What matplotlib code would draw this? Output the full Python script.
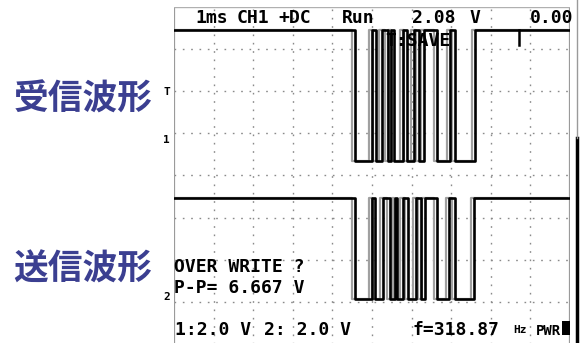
import matplotlib
matplotlib.use("Agg")
import matplotlib.pyplot as plt
from matplotlib.patches import Rectangle
import numpy as np

W, H = 581, 343

# ---------------- data ----------------
# time in ms (1 ms/div), edges where the level toggles; starts high
ch2_edges = [4.57, 5.00, 5.08, 5.28, 5.45, 5.58, 5.63, 5.78, 5.91, 6.11, 6.24, 6.34, 6.64, 6.94, 7.10, 7.58]
ch1_edges = [4.57, 5.00, 5.10, 5.25, 5.40, 5.48, 5.56, 5.78, 5.88, 6.06, 6.19, 6.31, 6.64, 6.97, 7.10, 7.60]
ch1_levels = (5.2, -1.0)   # volts high / low
ch2_levels = (4.7, -0.1)
volts_per_div = 2.0
ch1_offset_div = 0.84
ch2_offset_div = -2.88
ms_per_div = 1.0
trigger_ms = 8.70

top_labels = ["1ms", "CH1", "+DC", "Run", "2.08", "V", "0.00"]
top_x = [195, 237, 278, 342, 412, 470, 530]
bottom_labels = ["1:2.0 V", "2: 2.0 V", "f=318.87"]
bottom_x = [175, 264, 412]


def square(edges, hi, lo, t0=0.0, t1=10.0):
    t = [t0]
    v = [hi]
    level = hi
    for e in edges:
        t += [e, e]
        nxt = lo if level == hi else hi
        v += [level, nxt]
        level = nxt
    t.append(t1)
    v.append(level)
    return np.array(t), np.array(v)


fig = plt.figure(figsize=(W / 100, H / 100), dpi=100)
fig.patch.set_facecolor("white")


def fx(x):
    return x / W


def fy(y):
    return 1 - y / H


# screen axes: 10 x 8 divisions
top_px, div_px = 6.8, 42.17
ax = fig.add_axes([fx(174), fy(top_px + 8 * div_px), 396 / W, 8 * div_px / H])
ax.set_xlim(0, 10)
ax.set_ylim(-4, 4)
ax.axis("off")

grid_col = "#8a8a8a"
for i in range(1, 10):
    ax.plot([i, i], [-4, 4], color=grid_col, lw=1.0, ls=(0, (1.2, 4.8)), zorder=1)
for j in range(-3, 4):
    ax.plot([0, 10], [j, j], color=grid_col, lw=1.0, ls=(0, (1.2, 4.8)), zorder=1)
ax.plot([0, 0], [-4, 4], color="#9a9a9a", lw=1.6, zorder=1)
ax.plot([10, 10], [-4, 4], color="#9a9a9a", lw=1.6, zorder=1)
ax.plot([0, 10], [4, 4], color="#b0b0b0", lw=1.0, zorder=1)

for edges, lv, off in [(ch1_edges, ch1_levels, ch1_offset_div), (ch2_edges, ch2_levels, ch2_offset_div)]:
    t, v = square(edges, lv[0], lv[1])
    y = off + v / volts_per_div
    ax.plot(t / ms_per_div - 0.07, y, color="#a0a0a0", lw=1.6, zorder=2)
    ax.plot(t / ms_per_div, y, color="black", lw=1.9, zorder=3)

# trigger position tick
hi1 = ch1_offset_div + ch1_levels[0] / volts_per_div
ax.plot([trigger_ms, trigger_ms], [hi1, hi1 - 0.35], color="black", lw=1.8, zorder=3)

mono = dict(family="DejaVu Sans Mono", weight="bold", fontsize=13, color="black")
for s, x in zip(top_labels, top_x):
    fig.text(fx(x), fy(23), s, ha="left", va="baseline", **mono)
fig.text(fx(385), fy(46), "T:SAVE", ha="left", va="baseline", **mono)
fig.text(fx(174), fy(272), "OVER WRITE ?", ha="left", va="baseline", **mono)
fig.text(fx(174), fy(293), "P-P= 6.667 V", ha="left", va="baseline", **mono)
for s, x in zip(bottom_labels, bottom_x):
    fig.text(fx(x), fy(335), s, ha="left", va="baseline", **mono)
fig.text(fx(513), fy(333), "Hz", ha="left", va="baseline", family="DejaVu Sans Mono", weight="bold", fontsize=8)
fig.text(fx(536), fy(335), "PWR", ha="left", va="baseline", family="DejaVu Sans Mono", weight="bold",
         fontsize=10, color="black")
fig.add_artist(Rectangle((fx(562), fy(335)), 8 / W, 14 / H, transform=fig.transFigure,
                         facecolor="black", edgecolor="none"))

# channel markers
small = dict(family="DejaVu Sans Mono", weight="bold", fontsize=8, color="black")
fig.text(fx(163), fy(92), "T", ha="left", va="center", **small)
fig.text(fx(163), fy(140), "1", ha="left", va="center", **small)
fig.text(fx(163), fy(297), "2", ha="left", va="center", **small)

# right thick bar
fig.add_artist(plt.Line2D([fx(577), fx(577)], [fy(138), fy(343)], color="black", lw=2.5))
fig.add_artist(plt.Line2D([fx(577), fx(577)], [fy(0), fy(138)], color="#9a9a9a", lw=1.0))

jp = dict(family=["Noto Sans CJK JP", "DejaVu Sans"], weight="bold", fontsize=25, color="#3b3f91")
fig.text(fx(83), fy(99), "受信波形", ha="center", va="center", **jp)
fig.text(fx(83), fy(269), "送信波形", ha="center", va="center", **jp)

fig.savefig("out.png", dpi=100)
